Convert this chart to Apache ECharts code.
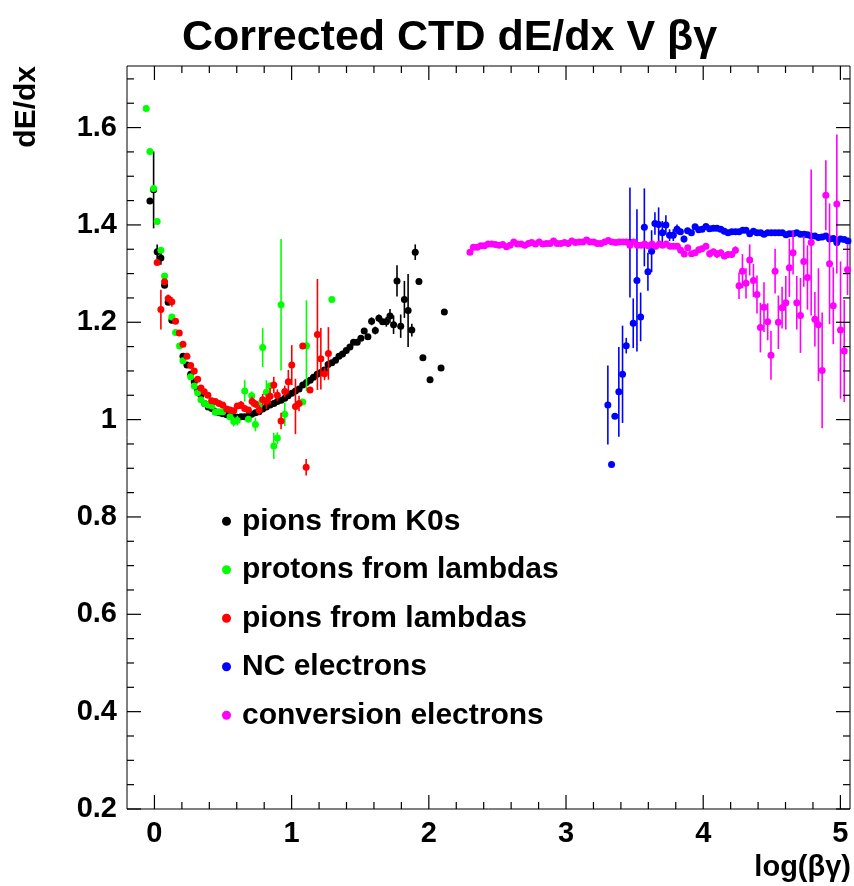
<!DOCTYPE html>
<html><head><meta charset="utf-8">
<script src="https://cdn.jsdelivr.net/npm/echarts@6/dist/echarts.min.js"></script>
<style>html,body{margin:0;padding:0;background:#fff}#c{width:854px;height:886px}</style>
</head><body><div id="c"></div>
<script>
// ---- data: pions from K0s ----
const kX = [-0.033,-0.006,0.020,0.047,0.074,0.100,0.127,0.208,0.237,0.264,0.290,0.315,0.339,0.366,0.392,0.419,0.444,0.471,0.498,0.527,0.551,0.578,0.604,0.631,0.658,0.685,0.709,0.736,0.762,0.789,0.816,0.843,0.870,0.896,0.923,0.950,0.974,1.001,1.028,1.054,1.081,1.108,1.135,1.159,1.186,1.213,1.239,1.266,1.293,1.320,1.345,1.371,1.398,1.425,1.451,1.478,1.505,1.529,1.556,1.583,1.610,1.636,1.663,1.690,1.717,1.743,1.768,1.795,1.822,1.849,1.876,1.901,1.928,1.957,2.009,2.089,2.113];
const kY = [1.449,1.472,1.345,1.332,1.276,1.241,1.204,1.130,1.112,1.093,1.078,1.062,1.050,1.033,1.026,1.023,1.016,1.014,1.012,1.010,1.007,1.006,1.005,1.006,1.006,1.007,1.011,1.014,1.016,1.022,1.026,1.030,1.033,1.037,1.040,1.044,1.049,1.054,1.059,1.063,1.071,1.076,1.081,1.087,1.093,1.097,1.102,1.113,1.117,1.122,1.130,1.135,1.142,1.149,1.159,1.159,1.167,1.182,1.170,1.202,1.183,1.208,1.201,1.201,1.213,1.195,1.285,1.192,1.247,1.224,1.184,1.344,1.284,1.127,1.082,1.106,1.221];
const kE = [0,0.079,0.015,0.014,0.005,0.005,0,0,0,0,0,0,0,0,0,0,0,0,0,0,0,0,0,0,0,0,0,0,0,0,0,0,0,0,0,0,0,0,0,0,0,0,0,0,0,0,0,0,0,0,0,0,0,0,0,0,0,0,0.006,0.008,0.008,0.008,0.006,0.010,0.014,0.019,0.032,0.024,0.038,0.075,0.013,0.016,0,0,0,0,0];
// ---- protons from lambdas ----
const pX = [-0.060,-0.033,-0.006,0.020,0.047,0.074,0.127,0.154,0.183,0.208,0.264,0.290,0.315,0.339,0.366,0.392,0.419,0.444,0.471,0.498,0.551,0.578,0.604,0.658,0.685,0.709,0.736,0.763,0.789,0.816,0.843,0.870,0.896,0.923,0.950,1.081,1.108,1.293];
const pY = [1.639,1.551,1.475,1.407,1.348,1.295,1.211,1.179,1.151,1.121,1.088,1.069,1.055,1.041,1.033,1.030,1.028,1.015,1.016,1.016,1.006,0.996,0.998,1.059,1.001,1.049,0.990,1.028,1.148,1.056,1.069,0.946,0.962,1.236,1.011,1.036,1.152,1.247];
const pE = [0,0,0,0,0,0,0,0,0,0,0,0,0,0,0,0,0,0,0,0,0,0.010,0.010,0.022,0.006,0.009,0.014,0.012,0.040,0.025,0.007,0.027,0.012,0.135,0.024,0,0.093,0];
// ---- pions from lambdas ----
const lX = [0.020,0.047,0.074,0.100,0.127,0.154,0.181,0.208,0.237,0.264,0.290,0.315,0.339,0.363,0.390,0.417,0.444,0.471,0.498,0.527,0.551,0.578,0.604,0.631,0.658,0.685,0.712,0.736,0.763,0.789,0.816,0.843,0.870,0.896,0.923,0.950,0.976,1.001,1.028,1.054,1.081,1.106,1.134,1.188,1.213,1.240,1.268];
const lY = [1.323,1.226,1.283,1.249,1.242,1.202,1.178,1.155,1.130,1.111,1.100,1.083,1.065,1.057,1.050,1.039,1.037,1.033,1.030,1.022,1.020,1.018,1.028,1.030,1.023,1.020,1.037,1.032,1.020,1.041,1.037,1.048,1.071,1.050,0.997,1.058,1.078,1.112,1.027,1.033,1.151,0.902,1.061,1.175,1.125,1.094,1.136];
const lE = [0,0.041,0,0.008,0.010,0,0,0,0,0,0,0,0,0,0,0,0,0,0,0,0,0,0,0.008,0,0,0.010,0.008,0.010,0.012,0.015,0.017,0.017,0.012,0.017,0.012,0.024,0.041,0.057,0.016,0,0.017,0,0.114,0.063,0.013,0.054];
// ---- NC electrons ----
const nX = [3.305,3.332,3.356,3.385,3.412,3.439,3.466,3.490,3.517,3.544,3.571,3.597,3.624,3.648,3.675,3.702,3.728,3.755,3.782,3.809,3.834,3.860,3.886,3.914,3.941,3.967,3.992,4.020,4.046,4.074,4.101,4.128,4.154,4.181,4.208,4.235,4.261,4.288,4.312,4.339,4.366,4.392,4.419,4.443,4.470,4.497,4.524,4.551,4.577,4.604,4.628,4.655,4.682,4.709,4.736,4.760,4.787,4.814,4.840,4.867,4.894,4.921,4.948,4.974,5.001,5.028,5.055];
const nY = [1.030,0.908,1.007,1.057,1.093,1.152,1.364,1.198,1.286,1.211,1.395,1.304,1.346,1.403,1.401,1.384,1.400,1.379,1.379,1.391,1.386,1.371,1.388,1.384,1.396,1.390,1.391,1.397,1.392,1.393,1.393,1.391,1.387,1.384,1.386,1.386,1.386,1.389,1.389,1.382,1.387,1.384,1.384,1.381,1.384,1.384,1.384,1.384,1.384,1.380,1.382,1.382,1.384,1.381,1.381,1.380,1.377,1.377,1.374,1.375,1.377,1.371,1.372,1.364,1.371,1.370,1.367];
const nE = [0.081,0,0,0.092,0.100,0.016,0.113,0.051,0.146,0.050,0.080,0.039,0.043,0.023,0.035,0.024,0.020,0.012,0.012,0.010,0.006,0.007,0.004,0.004,0.003,0.003,0.003,0.003,0.003,0.002,0.002,0.002,0.002,0.002,0.002,0.002,0.002,0.002,0.002,0.002,0.002,0.002,0.002,0.002,0.002,0.002,0.002,0.002,0.002,0.002,0.002,0.002,0.002,0.002,0.002,0.002,0.002,0.002,0.002,0.002,0.002,0.003,0.003,0.004,0.003,0.003,0.004];
// ---- conversion electrons ----
const cX = [2.300,2.325,2.352,2.379,2.405,2.432,2.459,2.486,2.512,2.539,2.566,2.592,2.619,2.646,2.673,2.700,2.726,2.750,2.777,2.804,2.831,2.858,2.884,2.909,2.935,2.962,2.989,3.016,3.042,3.069,3.096,3.123,3.150,3.176,3.203,3.228,3.254,3.281,3.308,3.335,3.362,3.389,3.415,3.442,3.466,3.493,3.520,3.547,3.573,3.600,3.627,3.654,3.681,3.705,3.731,3.758,3.785,3.812,3.836,3.862,3.887,3.915,3.941,3.968,3.991,4.020,4.047,4.074,4.101,4.128,4.154,4.181,4.208,4.235,4.261,4.286,4.312,4.339,4.366,4.392,4.417,4.443,4.470,4.494,4.524,4.548,4.575,4.602,4.628,4.655,4.682,4.709,4.733,4.760,4.787,4.814,4.840,4.867,4.894,4.921,4.948,4.974,5.001,5.028,5.052];
const cY = [1.344,1.354,1.354,1.357,1.357,1.361,1.361,1.360,1.358,1.360,1.355,1.358,1.365,1.361,1.361,1.358,1.362,1.364,1.361,1.365,1.361,1.362,1.362,1.367,1.362,1.362,1.364,1.362,1.367,1.364,1.365,1.365,1.369,1.365,1.365,1.362,1.362,1.365,1.368,1.365,1.364,1.365,1.365,1.365,1.358,1.365,1.358,1.358,1.361,1.357,1.361,1.356,1.361,1.358,1.361,1.356,1.356,1.356,1.348,1.340,1.353,1.341,1.343,1.349,1.351,1.356,1.341,1.345,1.340,1.343,1.336,1.339,1.339,1.348,1.275,1.305,1.280,1.328,1.286,1.257,1.189,1.231,1.201,1.132,1.305,1.200,1.230,1.240,1.312,1.343,1.240,1.214,1.325,1.292,1.364,1.206,1.195,1.101,1.461,1.320,1.234,1.443,1.184,1.141,1.308];
const cE = [0,0,0,0,0,0,0,0,0,0,0,0,0,0,0,0,0,0,0,0,0,0,0,0,0,0,0,0,0,0,0,0,0,0,0,0,0,0,0,0,0,0,0,0,0,0,0,0,0,0,0,0,0,0,0,0,0,0,0.004,0.005,0.004,0.005,0.005,0.005,0.005,0.006,0.008,0.006,0.008,0.006,0.006,0.006,0.006,0.008,0.027,0.035,0.031,0.032,0.034,0.039,0.051,0.051,0.038,0.050,0.046,0.055,0.043,0.055,0.060,0.045,0.055,0.077,0.052,0.066,0.150,0.056,0.116,0.119,0.072,0.124,0.079,0.143,0.141,0.105,0.052];
const seriesNames = ['pions from K0s','protons from lambdas','pions from lambdas','NC electrons','conversion electrons'];
const seriesColors = ['#000000','#00ff00','#ff0000','#0000ff','#ff00ff'];
// ---- axis ticks ----
const xMajorTicks = [0,1,2,3,4,5];
const xMinorTicks = [0.2,0.4,0.6,0.8,1.2,1.4,1.6,1.8,2.2,2.4,2.6,2.8,3.2,3.4,3.6,3.8,4.2,4.4,4.6,4.8];
const yMajorTicks = [0.2,0.4,0.6,0.8,1.0,1.2,1.4,1.6];
const yMinorTicks = [0.25,0.3,0.35,0.45,0.5,0.55,0.65,0.7,0.75,0.85,0.9,0.95,1.05,1.1,1.15,1.25,1.3,1.35,1.45,1.5,1.55,1.65,1.7];
const XMIN = -0.2, XMAX = 5.07, YMIN = 0.2, YMAX = 1.7265;

const FONT = '"Liberation Sans", Arial, Helvetica, sans-serif';
const chart = echarts.init(document.getElementById('c'), null, {renderer:'canvas'});
const sets = [[kX,kY,kE],[pX,pY,pE],[lX,lY,lE],[nX,nY,nE],[cX,cY,cE]];
const series = [];
sets.forEach((s, k) => {
  const [X, Y, E] = s;
  series.push({
    type: 'custom', name: 'err' + k, clip: true, silent: true, z: 2 + 2*k,
    data: X.map((x, i) => [x, Y[i], E[i]]),
    renderItem: function (params, api) {
      const e = api.value(2);
      if (!(e > 0)) return null;
      const a = api.coord([api.value(0), api.value(1) - e]);
      const b = api.coord([api.value(0), api.value(1) + e]);
      return {type:'line', shape:{x1:a[0], y1:a[1], x2:b[0], y2:b[1]}, style:{stroke: seriesColors[k], lineWidth: 1.6}};
    }
  });
  series.push({
    type: 'scatter', name: seriesNames[k], z: 3 + 2*k,
    symbol: 'circle', symbolSize: 7, silent: true,
    itemStyle: {color: seriesColors[k], opacity: 1},
    data: X.map((x, i) => [x, Y[i]])
  });
});

// tick marks on all four sides of the frame, pointing inward
// each item: [x value, y value, kind]; kind 0/1 = x major/minor, 2/3 = y major/minor
const tickData = [];
xMajorTicks.forEach(v => tickData.push([v, 1.0, 0]));
xMinorTicks.forEach(v => tickData.push([v, 1.0, 1]));
yMajorTicks.forEach(v => tickData.push([1.0, v, 2]));
yMinorTicks.forEach(v => tickData.push([1.0, v, 3]));
series.push({
  type: 'custom', name: 'ticks', clip: false, silent: true, z: 20,
  data: tickData,
  renderItem: function (params, api) {
    const kind = api.value(2);
    const st = {stroke: '#000', lineWidth: 1.2};
    const L = (kind === 0 || kind === 2) ? 14 : 7;
    if (kind < 2) {
      const v = api.value(0);
      const b = api.coord([v, YMIN]), t = api.coord([v, YMAX]);
      const x = b[0];
      return {type: 'group', children: [
        {type:'line', shape:{x1:x, y1:b[1], x2:x, y2:b[1] - L}, style: st},
        {type:'line', shape:{x1:x, y1:t[1], x2:x, y2:t[1] + L}, style: st}
      ]};
    } else {
      const v = api.value(1);
      const l = api.coord([XMIN, v]), r = api.coord([XMAX, v]);
      const y = l[1];
      return {type: 'group', children: [
        {type:'line', shape:{x1:l[0], y1:y, x2:l[0] + L, y2:y}, style: st},
        {type:'line', shape:{x1:r[0], y1:y, x2:r[0] - L, y2:y}, style: st}
      ]};
    }
  }
});

chart.setOption({
  animation: false,
  backgroundColor: '#fff',
  title: {text: 'Corrected CTD dE/dx V βγ', left: 177, top: 12,
    textStyle: {fontFamily: FONT, fontWeight: 'bold', fontSize: 43, color: '#000'}},
  grid: {left: 127, right: 4, top: 66, bottom: 77, containLabel: false, show: true,
    borderColor: '#000', borderWidth: 1, backgroundColor: 'transparent'},
  xAxis: {type:'value', min: XMIN, max: XMAX, splitNumber: 5,
    axisLine: {show: false, onZero: false}, axisTick: {show: false}, splitLine: {show: false},
    axisLabel: {show: true, margin: 10, color: '#000', fontFamily: FONT, fontWeight: 'bold', fontSize: 29,
      showMinLabel: false, showMaxLabel: false,
      formatter: v => (xMajorTicks.some(t => Math.abs(t - v) < 1e-6) ? String(Math.round(v)) : '')}},
  yAxis: {type:'value', min: YMIN, max: YMAX, interval: 0.2,
    axisLine: {show: false, onZero: false}, axisTick: {show: false}, splitLine: {show: false},
    axisLabel: {show: true, margin: 10, color: '#000', fontFamily: FONT, fontWeight: 'bold', fontSize: 29,
      showMaxLabel: false,
      formatter: v => (yMajorTicks.some(t => Math.abs(t - v) < 1e-6) ? String(+v.toFixed(1)) : '')}},
  legend: {data: seriesNames, orient: 'vertical', left: 217, top: 492, icon: 'circle', itemWidth: 9, itemHeight: 9,
    itemGap: 0, selectedMode: false,
    textStyle: {fontFamily: FONT, fontWeight: 'bold', fontSize: 30, lineHeight: 48.5, color: '#000', padding: [0,0,0,6]}},
  graphic: [
    {type: 'text', left: 12, top: 66, rotation: Math.PI/2, style: {text: 'dE/dx', font: 'bold 30px ' + FONT, fill: '#000'}},
    {type: 'text', right: 3, top: 853, style: {text: 'log(βγ)', font: 'bold 29px ' + FONT, fill: '#000'}}
  ],
  series: series
});
</script></body></html>
